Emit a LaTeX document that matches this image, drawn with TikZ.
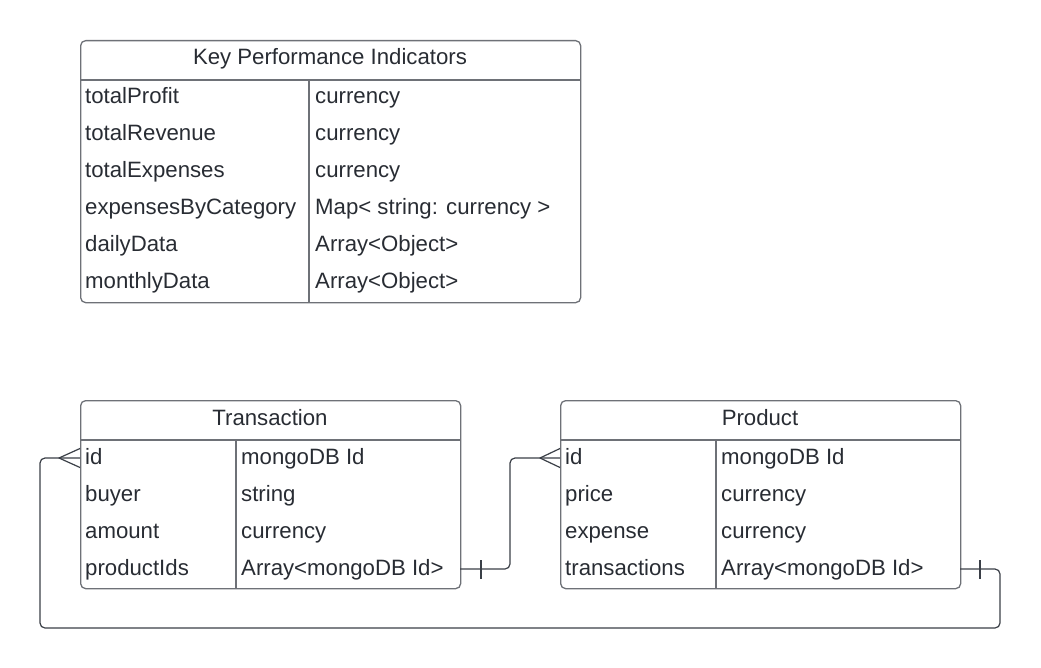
\documentclass[tikz,border=0pt]{standalone}
\usepackage{fontspec}
\setmainfont{Liberation Sans}
\definecolor{txtc}{HTML}{282C33}
\definecolor{bordc}{HTML}{6E7177}
\definecolor{connc}{HTML}{3A3F47}
\begin{document}
\begin{tikzpicture}[x=1pt,y=-1pt,
  tbl/.style={draw=bordc, line width=1.3pt, rounded corners=5pt, inner sep=0pt, anchor=north west},
  sep/.style={draw=bordc, line width=1.3pt},
  txt/.style={text=txtc, font=\fontsize{22.2}{26}\selectfont, inner sep=0pt, anchor=base west},
  hdr/.style={text=txtc, font=\fontsize{22.2}{26}\selectfont, inner sep=0pt, anchor=base},
  conn/.style={draw=connc, line width=1.2pt, line join=round},
]
\useasboundingbox (0,0) rectangle (1041,668);

% ---------- KPI table ----------
\node[tbl, minimum width=500pt, minimum height=262pt] (kpi) at (80,40) {};
\draw[sep] (80,80) -- (580,80);
\draw[sep] (309,80) -- (309,302);
\node[hdr] (kpih) at (330,65) {Key Performance Indicators};
\node[txt] (k1a) at (85,104) {totalProfit};
\node[txt] (k1b) at (315,104) {currency};
\node[txt] (k2a) at (85,141) {totalRevenue};
\node[txt] (k2b) at (315,141) {currency};
\node[txt] (k3a) at (85,178) {totalExpenses};
\node[txt] (k3b) at (315,178) {currency};
\node[txt] (k4a) at (85,215) {expensesByCategory};
\node[txt] (k4b) at (315,215) {Map< string: currency >};
\node[txt] (k5a) at (85,252) {dailyData};
\node[txt] (k5b) at (315,252) {Array<Object>};
\node[txt] (k6a) at (85,289) {monthlyData};
\node[txt] (k6b) at (315,289) {Array<Object>};

% ---------- Transaction table ----------
\node[tbl, minimum width=380pt, minimum height=188pt] (tr) at (80,400) {};
\draw[sep] (80,440) -- (460,440);
\draw[sep] (236,440) -- (236,588);
\node[hdr] (trh) at (270,425) {Transaction};
\node[txt] (t1a) at (85,464) {id};
\node[txt] (t1b) at (241,464) {mongoDB Id};
\node[txt] (t2a) at (85,501) {buyer};
\node[txt] (t2b) at (241,501) {string};
\node[txt] (t3a) at (85,538) {amount};
\node[txt] (t3b) at (241,538) {currency};
\node[txt] (t4a) at (85,575) {productIds};
\node[txt] (t4b) at (241,575) {Array<mongoDB Id>};

% ---------- Product table ----------
\node[tbl, minimum width=400pt, minimum height=188pt] (pr) at (560,400) {};
\draw[sep] (560,440) -- (960,440);
\draw[sep] (716,440) -- (716,588);
\node[hdr] (prh) at (760,425) {Product};
\node[txt] (p1a) at (565,464) {id};
\node[txt] (p1b) at (721,464) {mongoDB Id};
\node[txt] (p2a) at (565,501) {price};
\node[txt] (p2b) at (721,501) {currency};
\node[txt] (p3a) at (565,538) {expense};
\node[txt] (p3b) at (721,538) {currency};
\node[txt] (p4a) at (565,575) {transactions};
\node[txt] (p4b) at (721,575) {Array<mongoDB Id>};

% ---------- Connectors ----------
\coordinate (tout) at (460,569);
\coordinate (pin) at (560,458);
\coordinate (pout) at (960,569);
\coordinate (tin) at (80,458);

% Transaction.productIds -> Product.id
\draw[conn, rounded corners=5pt] (tout) -- (510,569) -- (510,458) -- (pin);
\draw[conn] ([yshift=-9.5pt]pin) -- (540,458) -- ([yshift=9.5pt]pin);
\draw[conn] (481,560) -- (481,579);

% Product.transactions -> Transaction.id
\draw[conn, rounded corners=5pt] (pout) -- (1000,569) -- (1000,628) -- (40,628) -- (40,458) -- (tin);
\draw[conn] ([yshift=-9.5pt]tin) -- (59,458) -- ([yshift=9.5pt]tin);
\draw[conn] (980,560) -- (980,579);
\end{tikzpicture}
\end{document}
